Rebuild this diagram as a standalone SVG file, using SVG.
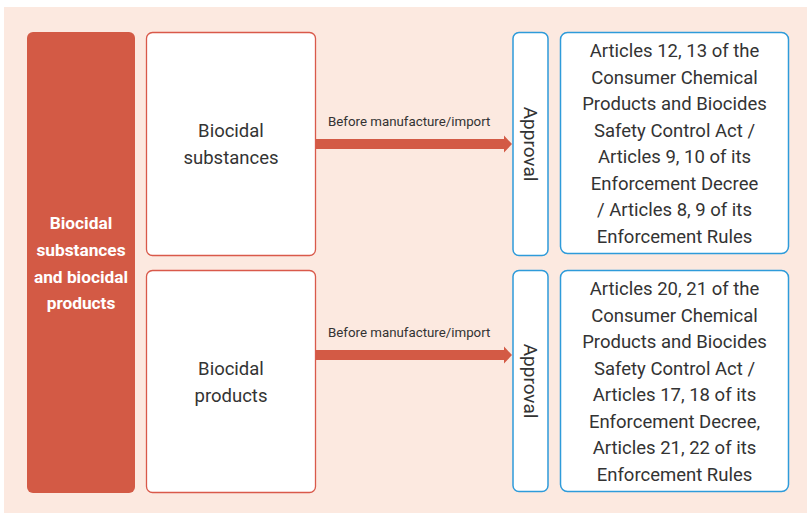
<svg xmlns="http://www.w3.org/2000/svg" width="807" height="513" viewBox="0 0 807 513">
<defs>
<style>
text{font-family:Roboto,"Liberation Sans",sans-serif;fill:#333333}
.mid{text-anchor:middle}
.box{fill:#ffffff;stroke:#D9594A;stroke-width:1.3}
.blue{fill:#ffffff;stroke:#2E9BDA;stroke-width:1.5}
.t17{font-size:18.5px}
.ap{font-size:19px}
.lbl{font-size:13.3px}
.wh{fill:#ffffff;font-weight:bold;font-size:17.3px}
.arr{fill:#D35A45}
</style>
</defs>
<rect x="0" y="0" width="807" height="513" fill="#ffffff"/>
<rect x="4" y="7" width="803" height="506" fill="#FCE9E0"/>
<g id="main">
<rect x="27" y="32" width="108" height="461" rx="6" fill="#D35A45"/>
<text class="mid wh" x="81"><tspan x="81" y="229">Biocidal</tspan><tspan x="81" y="256">substances</tspan><tspan x="81" y="283">and biocidal</tspan><tspan x="81" y="309">products</tspan></text>
</g>
<g id="substances">
<rect class="box" x="146.5" y="32.5" width="169" height="223" rx="6"/>
<text class="mid t17" x="231"><tspan x="231" y="137">Biocidal</tspan><tspan x="231" y="164">substances</tspan></text>
</g>
<g id="products">
<rect class="box" x="146.5" y="270.5" width="169" height="222" rx="6"/>
<text class="mid t17" x="231"><tspan x="231" y="375">Biocidal</tspan><tspan x="231" y="402">products</tspan></text>
</g>
<g id="connectors">
<polygon class="arr" points="316,139 504,139 504,135.5 512,144 504,152.5 504,149 316,149"/>
<text class="lbl" x="328" y="126">Before manufacture/import</text>
<polygon class="arr" points="316,350 504,350 504,346.5 512,355 504,363.5 504,360 316,360"/>
<text class="lbl" x="328" y="337">Before manufacture/import</text>
</g>
<g id="approval1">
<rect class="blue" x="513" y="32.5" width="35" height="223" rx="6"/>
<text class="mid ap" transform="translate(524,144) rotate(90)" x="0" y="0">Approval</text>
</g>
<g id="approval2">
<rect class="blue" x="513" y="270.5" width="35" height="221" rx="6"/>
<text class="mid ap" transform="translate(524,381) rotate(90)" x="0" y="0">Approval</text>
</g>
<g id="law1">
<rect class="blue" x="560.5" y="32.5" width="228" height="221" rx="7"/>
<text class="mid t17" x="674.5"><tspan x="674.5" y="57">Articles 12, 13 of the</tspan><tspan x="674.5" y="83.5">Consumer Chemical</tspan><tspan x="674.5" y="110">Products and Biocides</tspan><tspan x="674.5" y="136.5">Safety Control Act /</tspan><tspan x="674.5" y="163">Articles 9, 10 of its</tspan><tspan x="674.5" y="189.5">Enforcement Decree</tspan><tspan x="674.5" y="216">/ Articles 8, 9 of its</tspan><tspan x="674.5" y="242.5">Enforcement Rules</tspan></text>
</g>
<g id="law2">
<rect class="blue" x="560.5" y="270.5" width="228" height="221" rx="7"/>
<text class="mid t17" x="674.5"><tspan x="674.5" y="295">Articles 20, 21 of the</tspan><tspan x="674.5" y="321.5">Consumer Chemical</tspan><tspan x="674.5" y="348">Products and Biocides</tspan><tspan x="674.5" y="374.5">Safety Control Act /</tspan><tspan x="674.5" y="401">Articles 17, 18 of its</tspan><tspan x="674.5" y="427.5">Enforcement Decree,</tspan><tspan x="674.5" y="454">Articles 21, 22 of its</tspan><tspan x="674.5" y="480.5">Enforcement Rules</tspan></text>
</g>
</svg>
